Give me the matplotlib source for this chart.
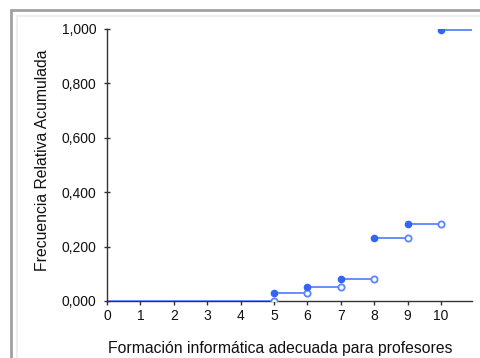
import matplotlib.pyplot as plt
from matplotlib.patches import Rectangle

# valores de la variable y frecuencia relativa acumulada
valores = [5, 6, 7, 8, 9, 10]
frec_acum = [0.029, 0.051, 0.081, 0.232, 0.283, 0.996]
x_max = 10.93

plt.rcParams['font.family'] = ['Liberation Sans', 'DejaVu Sans']

fig = plt.figure(figsize=(4.81, 3.58), dpi=100)

# marcos grises alrededor del gráfico
fig.patches.append(Rectangle((10.5 / 481, -0.1), 2, (358 - 9.5) / 358 + 0.1,
                             transform=fig.transFigure, fill=False,
                             edgecolor='#a0a0a0', linewidth=2))
fig.patches.append(Rectangle((16.5 / 481, -0.1), 2, (358 - 16.5) / 358 + 0.1,
                             transform=fig.transFigure, fill=False,
                             edgecolor='#eeeeee', linewidth=1.5))

ax = fig.add_axes([107 / 481, (358 - 301) / 358, (472 - 107) / 481, (301 - 29) / 358])

linea = '#5b84ff'
punto = '#3366f0'

# tramo inicial en cero
ax.plot([0, valores[0]], [0, 0], color=linea, lw=1.3, zorder=2)
ax.plot(valores[0], 0, 'o', ms=4.5, mfc='white', mec=linea, mew=1.3, zorder=3)

for i, (v, f) in enumerate(zip(valores, frec_acum)):
    fin = valores[i + 1] if i + 1 < len(valores) else x_max
    ax.plot([v, fin], [f, f], color=linea, lw=1.3, zorder=2)
    ax.plot(v, f, 'o', ms=4.5, color=punto, zorder=3)
    if i + 1 < len(valores):
        ax.plot(fin, f, 'o', ms=4.5, mfc='white', mec=linea, mew=1.3, zorder=3)

ax.set_xlim(0, x_max)
ax.set_ylim(0, 1.0)
ax.set_xticks(range(0, 11))
ax.set_yticks([0, 0.2, 0.4, 0.6, 0.8, 1.0])
ax.set_yticklabels(['0,000', '0,200', '0,400', '0,600', '0,800', '1,000'])

for s in ['top', 'right']:
    ax.spines[s].set_visible(False)
for s in ['left', 'bottom']:
    ax.spines[s].set_color('#333333')
    ax.spines[s].set_linewidth(1)
ax.spines['bottom'].set_zorder(1)
ax.spines['left'].set_clip_on(False)

ax.tick_params(axis='y', direction='inout', length=5, width=1, color='#333333',
               labelsize=10, pad=5, labelcolor='#111111')
ax.tick_params(axis='x', direction='out', length=3, width=1, color='#333333',
               labelsize=10, pad=3, labelcolor='#111111')

ax.set_xlabel('Formación informática adecuada para profesores', fontsize=11.3,
              color='#111111', va='center')
ax.set_ylabel('Frecuencia Relativa Acumulada', fontsize=11.3, color='#111111',
              va='center')
ax.xaxis.set_label_coords((280 - 107) / 365, -(349 - 301) / 272)
ax.yaxis.set_label_coords((42 - 107) / 365, (301 - 160) / 272)

fig.savefig('out.png', dpi=100)
